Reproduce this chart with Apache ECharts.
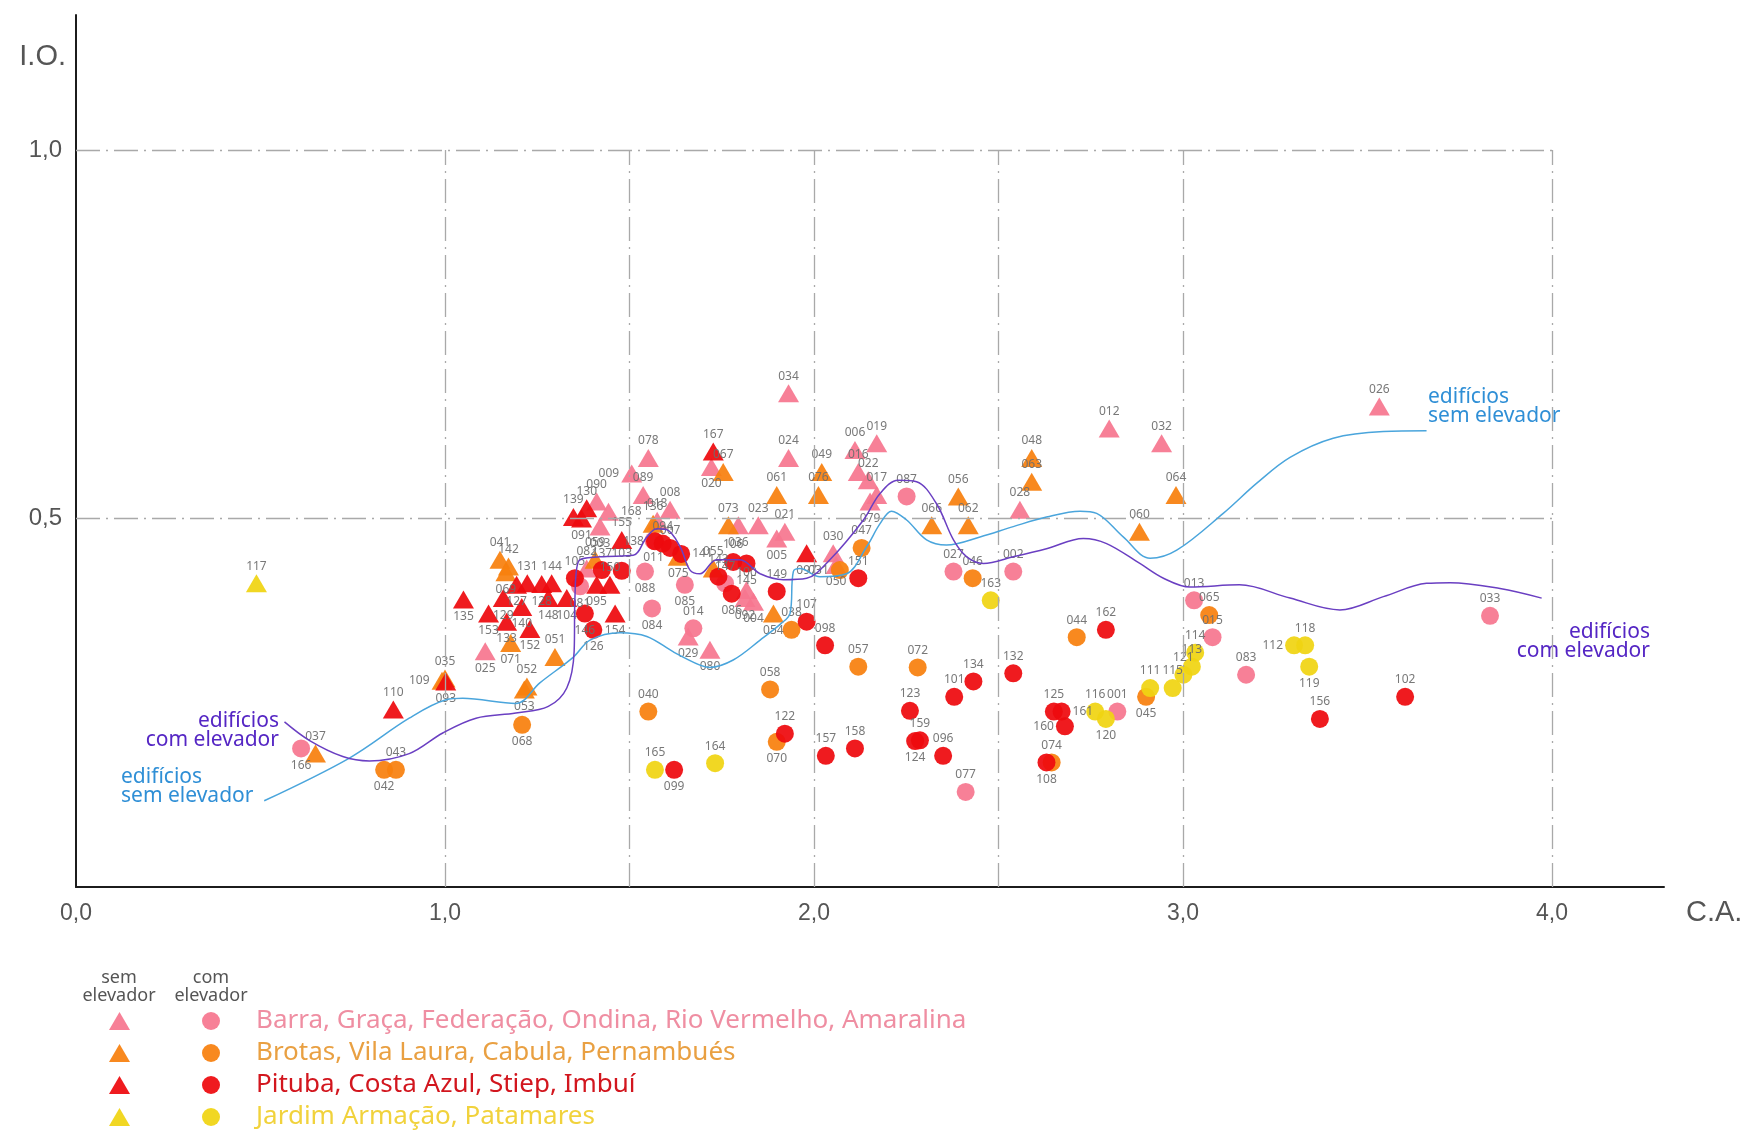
<!DOCTYPE html>
<html>
<head>
<meta charset="utf-8">
<script src="https://cdn.jsdelivr.net/npm/echarts@6/dist/echarts.min.js"></script>
<style>
  html, body { margin: 0; padding: 0; background: #fff; }
  #chart { width: 1749px; height: 1130px; }
</style>
</head>
<body>
<div id="chart"></div>
<script>
// C.A. (x) versus I.O. (y) per building, grouped by neighbourhood.
// Each point: [C.A., I.O., building id]

// Barra, Graça, Federação, Ondina, Rio Vermelho, Amaralina
const barraSem = [
  [1.931,0.670,'034'],[3.532,0.652,'026'],[2.800,0.622,'012'],[2.942,0.602,'032'],
  [2.170,0.602,'019'],[2.111,0.593,'006'],[1.551,0.582,'078'],[1.931,0.582,'024'],
  [2.120,0.563,'016'],[1.506,0.561,'009'],[1.722,0.570,'020'],[2.147,0.552,'022'],
  [1.537,0.532,'089'],[2.170,0.532,'017'],[1.411,0.523,'090'],[2.152,0.523,'079'],
  [1.610,0.512,'008'],[2.558,0.512,'028'],[1.443,0.509,'168'],[1.575,0.497,'018'],
  [1.420,0.489,'003'],[1.795,0.491,'036'],[1.849,0.491,'023'],[1.921,0.482,'021'],
  [1.899,0.473,'005'],[2.052,0.453,'030'],[2.060,0.437,'050'],[1.384,0.432,'082'],
  [1.817,0.403,'100'],[1.813,0.392,'092'],[1.836,0.387,'004'],[1.659,0.340,'029'],
  [1.718,0.322,'080'],[1.109,0.320,'025']
];
const barraCom = [
  [2.251,0.530,'087'],[1.565,0.470,'011'],[1.542,0.428,'088'],[2.378,0.428,'027'],
  [2.540,0.428,'002'],[1.650,0.410,'085'],[1.366,0.408,'081'],[1.759,0.412,'147'],
  [3.030,0.389,'013'],[1.561,0.378,'084'],[3.832,0.368,'033'],[1.673,0.351,'014'],
  [3.080,0.339,'015'],[3.171,0.288,'083'],[2.822,0.238,'001'],[0.610,0.188,'166'],
  [2.411,0.129,'077']
];

// Brotas, Vila Laura, Cabula, Pernambués
const brotasSem = [
  [2.590,0.582,'048'],[1.754,0.563,'067'],[2.021,0.563,'049'],[2.590,0.550,'063'],
  [1.899,0.532,'061'],[2.012,0.532,'076'],[2.391,0.530,'056'],[2.981,0.532,'064'],
  [1.564,0.493,'136'],[1.768,0.491,'073'],[2.319,0.491,'066'],[2.418,0.491,'062'],
  [2.882,0.482,'060'],[1.149,0.444,'041'],[1.407,0.444,'059'],[1.632,0.448,'075'],
  [1.172,0.435,'142'],[1.727,0.432,'055'],[1.165,0.427,'069'],[1.890,0.371,'054'],
  [1.178,0.331,'071'],[1.298,0.312,'051'],[1.000,0.283,'035'],[0.992,0.280,'109'],
  [1.222,0.272,'052'],[1.215,0.268,'053'],[0.649,0.181,'037']
];
const brotasCom = [
  [2.129,0.460,'047'],[2.070,0.430,'031'],[2.430,0.419,'046'],[3.071,0.369,'065'],
  [1.939,0.349,'038'],[2.712,0.339,'044'],[2.120,0.299,'057'],[2.281,0.298,'072'],
  [1.881,0.268,'058'],[2.900,0.258,'045'],[1.551,0.238,'040'],[1.209,0.220,'068'],
  [1.899,0.197,'070'],[2.644,0.169,'074'],[0.835,0.159,'042'],[0.867,0.159,'043']
];

// Pituba, Costa Azul, Stiep, Imbuí
const pitubaSem = [
  [1.727,0.591,'167'],[1.384,0.514,'130'],[1.348,0.502,'139'],[1.370,0.500,'091'],
  [1.479,0.471,'155'],[1.980,0.453,'097'],[1.223,0.412,'131'],[1.194,0.410,'127'],
  [1.262,0.411,'128'],[1.289,0.412,'144'],[1.411,0.410,'095'],[1.447,0.410,'150'],
  [1.050,0.390,'135'],[1.158,0.392,'129'],[1.280,0.392,'148'],[1.330,0.392,'104'],
  [1.208,0.380,'140'],[1.118,0.371,'153'],[1.461,0.371,'154'],[1.167,0.360,'133'],
  [1.230,0.350,'152'],[1.002,0.279,'093'],[0.860,0.241,'110']
];
const pitubaCom = [
  [1.569,0.469,'138'],[1.590,0.466,'094'],[1.610,0.460,'007'],[1.640,0.452,'141'],
  [1.425,0.430,'137'],[1.479,0.429,'103'],[1.741,0.421,'143'],[1.352,0.419,'105'],
  [1.781,0.441,'106'],[1.817,0.439,'145'],[2.120,0.419,'151'],[1.899,0.401,'149'],
  [1.777,0.398,'086'],[1.379,0.371,'146'],[2.791,0.349,'162'],[1.980,0.360,'107'],
  [1.402,0.349,'126'],[2.030,0.328,'098'],[2.540,0.290,'132'],[2.432,0.279,'134'],
  [2.380,0.258,'101'],[3.602,0.258,'102'],[2.260,0.239,'123'],[2.650,0.238,'125'],
  [2.671,0.238,'161'],[3.371,0.228,'156'],[2.680,0.218,'160'],[1.921,0.208,'122'],
  [2.287,0.199,'159'],[2.274,0.198,'124'],[2.111,0.188,'158'],[2.032,0.178,'157'],
  [2.350,0.178,'096'],[2.630,0.169,'108'],[1.621,0.159,'099']
];

// Jardim Armação, Patamares
const jardimSem = [
  [0.489,0.412,'117']
];
const jardimCom = [
  [2.479,0.389,'163'],[3.301,0.328,'112'],[3.331,0.328,'118'],[3.033,0.318,'114'],
  [3.024,0.299,'113'],[3.342,0.299,'119'],[3.001,0.288,'121'],[2.911,0.270,'111'],
  [2.972,0.270,'115'],[2.762,0.238,'116'],[2.791,0.228,'120'],[1.732,0.168,'164'],
  [1.569,0.159,'165']
];

// Trend curves
const curveSemElevador = [
  [0.510,0.117],[0.741,0.175],[0.903,0.229],[1.003,0.254],[1.048,0.256],[1.192,0.249],
  [1.257,0.277],[1.348,0.312],[1.393,0.335],[1.474,0.345],[1.547,0.340],[1.619,0.319],
  [1.691,0.301],[1.718,0.298],[1.781,0.308],[1.854,0.335],[1.912,0.358],[1.935,0.371],
  [1.944,0.428],[1.962,0.432],[2.016,0.421],[2.088,0.425],[2.143,0.462],[2.179,0.493],
  [2.210,0.510],[2.251,0.498],[2.305,0.471],[2.359,0.464],[2.450,0.475],[2.540,0.489],
  [2.630,0.502],[2.721,0.510],[2.766,0.507],[2.838,0.475],[2.911,0.446],[2.983,0.457],
  [3.109,0.507],[3.200,0.548],[3.290,0.583],[3.407,0.609],[3.543,0.618],[3.660,0.619]
];
const curveComElevador = [
  [0.565,0.224],[0.632,0.199],[0.723,0.177],[0.795,0.171],[0.903,0.181],[0.994,0.209],
  [1.084,0.229],[1.192,0.236],[1.280,0.245],[1.330,0.270],[1.350,0.320],[1.352,0.390],
  [1.362,0.442],[1.420,0.448],[1.510,0.450],[1.547,0.475],[1.574,0.486],
  [1.600,0.485],[1.637,0.462],[1.664,0.430],[1.691,0.425],[1.736,0.444],[1.799,0.444],
  [1.854,0.425],[1.917,0.417],[1.980,0.419],[2.043,0.444],[2.134,0.498],[2.179,0.534],
  [2.228,0.552],[2.278,0.550],[2.332,0.520],[2.378,0.471],[2.414,0.448],[2.459,0.439],
  [2.540,0.448],[2.630,0.459],[2.730,0.473],[2.793,0.466],[2.883,0.439],[2.947,0.419],
  [3.019,0.407],[3.153,0.410],[3.290,0.392],[3.425,0.376],[3.543,0.394],[3.660,0.412],
  [3.724,0.413],[3.859,0.405],[3.972,0.392]
];

// Reference lines
const gridX = [1, 1.5, 2, 2.5, 3, 4];
const gridY = [0.5, 1.0];

const groupNames = [
  'Barra, Graça, Federação, Ondina, Rio Vermelho, Amaralina',
  'Brotas, Vila Laura, Cabula, Pernambués',
  'Pituba, Costa Azul, Stiep, Imbuí',
  'Jardim Armação, Patamares'
];

// Styling
const markerColors = ['#f6768f', '#f7800e', '#ee0a0e', '#f0d412'];
const legendTextColors = ['#ef8ea2', '#e9a042', '#d2161e', '#f1d23c'];

const LABEL_BOTTOM = new Set(['166','042','093','135','025','153','129','127','128','140','133',
  '152','071','053','148','104','081','095','146','126','154','003','091','020','036','005',
  '011','075','088','085','084','029','080','086','004','092','054','050','079','070','124',
  '108','099','120','045','119','069','068','097','145']);
const LABEL_LEFT = new Set(['109','138','009','031','112','160']);
const LABEL_RIGHT = new Set(['168','141','161']);

function toItems(arr) {
  return arr.map(([x, y, id]) => ({
    value: [x, y, id],
    label: { position: LABEL_BOTTOM.has(id) ? 'bottom' : LABEL_LEFT.has(id) ? 'left' : LABEL_RIGHT.has(id) ? 'right' : 'top' }
  }));
}

function scatterSeries(name, arr, symbol, color, z) {
  return {
    type: 'scatter',
    name: name,
    data: toItems(arr),
    symbol: symbol,
    symbolSize: symbol === 'triangle' ? [21, 18] : 18,
    z: z,
    itemStyle: { color: color, opacity: 0.93 },
    label: {
      show: true,
      formatter: p => p.value[2],
      distance: 2,
      fontSize: 12,
      fontFamily: 'Noto Sans',
      color: '#6e6e6e'
    },
    emphasis: { disabled: true }
  };
}

const semNames = groupNames.map(n => n + ' – sem elevador');
const semData = [barraSem, brotasSem, pitubaSem, jardimSem];
const comData = [barraCom, brotasCom, pitubaCom, jardimCom];

const scatter = [];
[0, 1, 3, 2].forEach(i => {
  scatter.push(scatterSeries(semNames[i], semData[i], 'triangle', markerColors[i], 4));
  scatter.push(scatterSeries(groupNames[i], comData[i], 'circle', markerColors[i], 4));
});

const fmt = v => v.toFixed(1).replace('.', ',');

const refLines = [];
gridX.forEach(x => refLines.push([{ coord: [x, 0] }, { coord: [x, 1.0] }]));
gridY.forEach(y => refLines.push([{ coord: [0, y] }, { coord: [4, y] }]));

const noteFont = '21px "Noto Sans"';

// legend rows: 26px text + 6px gap = 32px pitch
const legendBase = {
  orient: 'vertical', top: 1008, height: 160, padding: 0,
  itemHeight: 18, itemGap: 6, selectedMode: false
};

const chart = echarts.init(document.getElementById('chart'));
chart.setOption({
  animation: false,
  backgroundColor: '#ffffff',
  grid: { left: 76, top: 15, right: 85, bottom: 243 },
  xAxis: {
    type: 'value', min: 0, max: 4.3035, interval: 1,
    axisLine: { show: true, onZero: false, lineStyle: { color: '#1c1c1c', width: 2 } },
    axisTick: { show: false },
    splitLine: { show: false },
    axisLabel: {
      showMaxLabel: false, margin: 15,
      fontSize: 23, fontFamily: 'Liberation Sans', color: '#555',
      formatter: v => Math.abs(v - Math.round(v)) < 1e-6 ? fmt(v) : ''
    }
  },
  yAxis: {
    type: 'value', min: 0, max: 1.1832, interval: 0.5,
    axisLine: { show: true, onZero: false, lineStyle: { color: '#1c1c1c', width: 2 } },
    axisTick: { show: false },
    splitLine: { show: false },
    axisLabel: {
      showMaxLabel: false, margin: 14,
      fontSize: 24, fontFamily: 'Liberation Sans', color: '#555',
      formatter: v => (v > 0 && Math.abs(v * 2 - Math.round(v * 2)) < 1e-6) ? fmt(v) : ''
    }
  },
  legend: [
    Object.assign({}, legendBase, {
      left: 109, itemWidth: 21,
      data: semNames.map(n => ({ name: n, icon: 'triangle' })),
      formatter: () => ' ',
      textStyle: { fontSize: 26, fontFamily: 'Noto Sans' }
    }),
    Object.assign({}, legendBase, {
      left: 202, itemWidth: 18,
      data: groupNames.map((n, i) => ({ name: n, icon: 'circle', textStyle: { color: legendTextColors[i] } })),
      textStyle: { fontSize: 26, fontFamily: 'Noto Sans', padding: [0, 0, 0, 31] }
    })
  ],
  graphic: [
    { type: 'text', x: 66, y: 57, style: { text: 'I.O.', fill: '#555', font: '29px "Liberation Sans"', textAlign: 'right', textVerticalAlign: 'middle' } },
    { type: 'text', x: 1686, y: 913, style: { text: 'C.A.', fill: '#555', font: '29px "Liberation Sans"', textAlign: 'left', textVerticalAlign: 'middle' } },
    { type: 'text', x: 119, y: 969, style: { text: 'sem\nelevador', fill: '#555', font: '18px "Noto Sans"', lineHeight: 18, textAlign: 'center', textVerticalAlign: 'top' } },
    { type: 'text', x: 211, y: 969, style: { text: 'com\nelevador', fill: '#555', font: '18px "Noto Sans"', lineHeight: 18, textAlign: 'center', textVerticalAlign: 'top' } },
    { type: 'text', x: 1428, y: 388, style: { text: 'edifícios\nsem elevador', fill: '#2f8fd6', font: noteFont, lineHeight: 19, textAlign: 'left', textVerticalAlign: 'top' } },
    { type: 'text', x: 1650, y: 623, style: { text: 'edifícios\ncom elevador', fill: '#5526c4', font: noteFont, lineHeight: 19, textAlign: 'right', textVerticalAlign: 'top' } },
    { type: 'text', x: 279, y: 712, style: { text: 'edifícios\ncom elevador', fill: '#5526c4', font: noteFont, lineHeight: 19, textAlign: 'right', textVerticalAlign: 'top' } },
    { type: 'text', x: 121, y: 768, style: { text: 'edifícios\nsem elevador', fill: '#2f8fd6', font: noteFont, lineHeight: 19, textAlign: 'left', textVerticalAlign: 'top' } }
  ],
  series: [
    {
      type: 'line', name: 'grade', data: [], silent: true, z: 1,
      markLine: {
        silent: true, symbol: ['none', 'none'], label: { show: false },
        lineStyle: { type: [24, 6, 2, 6], color: '#a9a9a9', width: 1.3 },
        emphasis: { disabled: true },
        data: refLines
      }
    },
    ...scatter,
    {
      type: 'line', name: 'curva sem elevador', data: curveSemElevador, smooth: 0.35,
      showSymbol: false, silent: true, z: 5,
      lineStyle: { color: '#4aa5dc', width: 1.5 }
    },
    {
      type: 'line', name: 'curva com elevador', data: curveComElevador, smooth: 0.35,
      showSymbol: false, silent: true, z: 5,
      lineStyle: { color: '#6a3fc2', width: 1.5 }
    }
  ]
});
</script>
</body>
</html>
